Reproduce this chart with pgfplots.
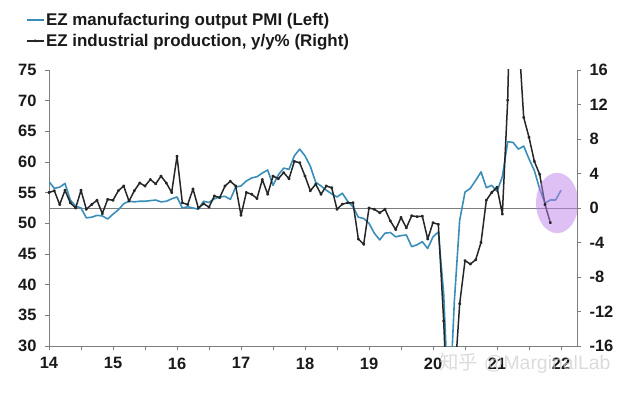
\documentclass[border=0pt]{standalone}
\usepackage{fontspec}
\setmainfont{Liberation Sans}
\newfontfamily\cjk{Noto Sans CJK SC}
\usepackage{pgfplots}
\pgfplotsset{compat=1.18}
\definecolor{pmiblue}{RGB}{58,141,184}
\definecolor{ipblack}{RGB}{36,38,40}
\definecolor{axgray}{RGB}{125,125,125}
\definecolor{hl}{RGB}{190,130,235}

\pgfplotstableread{
x y
14.0000 56.8
14.0833 55.7
14.1667 55.9
14.2500 56.5
14.3333 53.8
14.4167 52.8
14.5000 52.5
14.5833 50.9
14.6667 51.0
14.7500 51.3
14.8333 51.2
14.9167 50.7
15.0000 51.5
15.0833 52.2
15.1667 53.2
15.2500 53.6
15.3333 53.5
15.4167 53.6
15.5000 53.6
15.5833 53.7
15.6667 53.8
15.7500 53.5
15.8333 53.6
15.9167 54.0
16.0000 54.3
16.0833 52.5
16.1667 52.7
16.2500 52.5
16.3333 52.3
16.4167 53.6
16.5000 53.4
16.5833 54.0
16.6667 54.3
16.7500 54.4
16.8333 53.9
16.9167 55.9
17.0000 56.1
17.0833 56.9
17.1667 57.4
17.2500 57.6
17.3333 58.2
17.4167 58.7
17.5000 56.2
17.5833 57.9
17.6667 59.0
17.7500 58.8
17.8333 61.0
17.9167 62.1
18.0000 61.0
18.0833 59.3
18.1667 56.7
18.2500 56.1
18.3333 55.4
18.4167 54.8
18.5000 54.3
18.5833 54.9
18.6667 53.6
18.7500 52.7
18.8333 51.0
18.9167 50.8
19.0000 50.0
19.0833 48.4
19.1667 47.3
19.2500 48.4
19.3333 48.5
19.4167 47.8
19.5000 48.0
19.5833 48.1
19.6667 46.2
19.7500 46.5
19.8333 47.0
19.9167 45.9
20.0000 47.8
20.0833 48.6
20.1667 38.5
20.2500 18.1
20.3333 37.3
20.4167 50.5
20.5000 55.1
20.5833 55.7
20.6667 57.0
20.7500 58.4
20.8333 55.8
20.9167 56.2
21.0000 55.2
21.0833 57.6
21.1667 63.3
21.2500 63.2
21.3333 62.1
21.4167 62.6
21.5000 60.5
21.5833 58.6
21.6667 55.6
21.7500 53.3
21.8333 53.8
21.9167 53.8
22.0000 55.4
}\pmidata

\pgfplotstableread{
x y
14.0000 1.8
14.0833 2.0
14.1667 0.4
14.2500 2.05
14.3333 0.6
14.4167 0.0
14.5000 2.05
14.5833 -0.15
14.6667 0.4
14.7500 0.9
14.8333 -0.65
14.9167 1.0
15.0000 0.9
15.0833 2.0
15.1667 2.55
15.2500 0.8
15.3333 2.0
15.4167 2.9
15.5000 2.55
15.5833 3.3
15.6667 2.8
15.7500 3.7
15.8333 2.9
15.9167 1.8
16.0000 6.0
16.0833 0.6
16.1667 0.4
16.2500 2.2
16.3333 0.0
16.4167 0.5
16.5000 0.1
16.5833 1.4
16.6667 1.2
16.7500 2.55
16.8333 3.1
16.9167 2.55
17.0000 -0.85
17.0833 1.8
17.1667 1.6
17.2500 1.1
17.3333 3.3
17.4167 1.6
17.5000 3.7
17.5833 3.4
17.6667 4.1
17.7500 3.4
17.8333 5.4
17.9167 5.25
18.0000 3.7
18.0833 2.0
18.1667 2.75
18.2500 1.6
18.3333 2.55
18.4167 2.35
18.5000 -0.15
18.5833 0.45
18.6667 0.6
18.7500 0.6
18.8333 -3.6
18.9167 -4.2
19.0000 0.0
19.0833 -0.15
19.1667 -0.55
19.2500 -0.15
19.3333 -1.5
19.4167 -2.5
19.5000 -1.1
19.5833 -2.3
19.6667 -0.9
19.7500 -1.0
19.8333 -0.95
19.9167 -3.6
20.0000 -1.7
20.0833 -1.9
20.1667 -13.1
20.2500 -28.0
20.3333 -20.4
20.4167 -11.1
20.5000 -6.1
20.5833 -6.5
20.6667 -6.0
20.7500 -4.0
20.8333 0.9
20.9167 1.8
21.0000 2.4
21.0833 -0.7
21.1667 12.5
21.2500 39.3
21.3333 20.5
21.4167 10.5
21.5000 8.2
21.5833 5.4
21.6667 3.9
21.7500 0.4
21.8333 -1.7
}\ipdata

\begin{document}
\begin{tikzpicture}[x=1bp,y=1bp]
\path[use as bounding box] (0,0) rectangle (624,392);
\begin{axis}[
  at={(49bp,46bp)}, anchor=south west,
  scale only axis, width=528bp, height=276bp,
  xmin=14, xmax=22.25, ymin=30, ymax=75,
  axis x line*=bottom, axis y line*=left,
  axis line style={axgray, line width=0.8bp},
  tick style={axgray, line width=0.8bp},
  tick align=outside,
  major tick length=4bp, minor tick length=4bp,
  xtick={14,...,22}, minor xtick={14.5,15.5,...,21.5},
  ytick={30,35,...,75},
  xticklabel={\pgfmathprintnumber[int detect]{\tick}},
  ticklabel style={font=\fontsize{16.5}{16.5}\selectfont\bfseries, text=black!90},
  xticklabel style={yshift=-4bp},
  yticklabel style={xshift=-5bp},
  /pgf/number format/assume math mode=true,
  clip=true,
]
\addplot[axgray, line width=0.8bp, forget plot] coordinates {(14,52.5) (22.25,52.5)};
\addplot[pmiblue, line width=1.6bp, line join=round] table[x=x,y=y] {\pmidata};
\end{axis}
\begin{axis}[
  at={(49bp,46bp)}, anchor=south west,
  scale only axis, width=528bp, height=276bp,
  xmin=14, xmax=22.25, ymin=-16, ymax=16,
  axis x line=none, axis y line*=right,
  axis line style={axgray, line width=0.8bp},
  tick style={axgray, line width=0.8bp},
  tick align=outside, major tick length=4bp,
  ytick={-16,-12,...,16},
  ticklabel style={font=\fontsize{16.5}{16.5}\selectfont\bfseries, text=black!90},
  yticklabel style={xshift=5bp},
  /pgf/number format/assume math mode=true,
  legend style={at={(-0.044,1.212)}, anchor=north west, draw=none, fill=none,
    inner sep=0pt, row sep=4bp,
    font=\fontsize{17}{17}\selectfont\bfseries, text=black!90,
    nodes={inner sep=1.5bp}},
  legend cell align=left,
  legend image code/.code={
    \draw[#1, mark=none] (0bp,0bp) -- (17bp,0bp);
    \draw[#1, only marks] plot coordinates {(8.5bp,0bp)};},
]
\addlegendimage{pmiblue, line width=1.6bp, mark=none}
\addlegendentry{EZ manufacturing output PMI (Left)}
\addplot[ipblack, line width=1.5bp, line join=round, mark=*, mark size=0.8bp,
  mark options={solid}] table[x=x,y=y] {\ipdata};
\addlegendentry{EZ industrial production, y/y\% (Right)}
\fill[hl, opacity=0.5] (axis cs:21.94,0.58) ellipse [x radius=0.33, y radius=3.5];
\end{axis}
\node[text=gray!40, opacity=0.7, font=\fontsize{19.5}{19.5}\selectfont] at (525,29) {{\cjk 知乎} @MarginalLab};
\end{tikzpicture}
\end{document}
